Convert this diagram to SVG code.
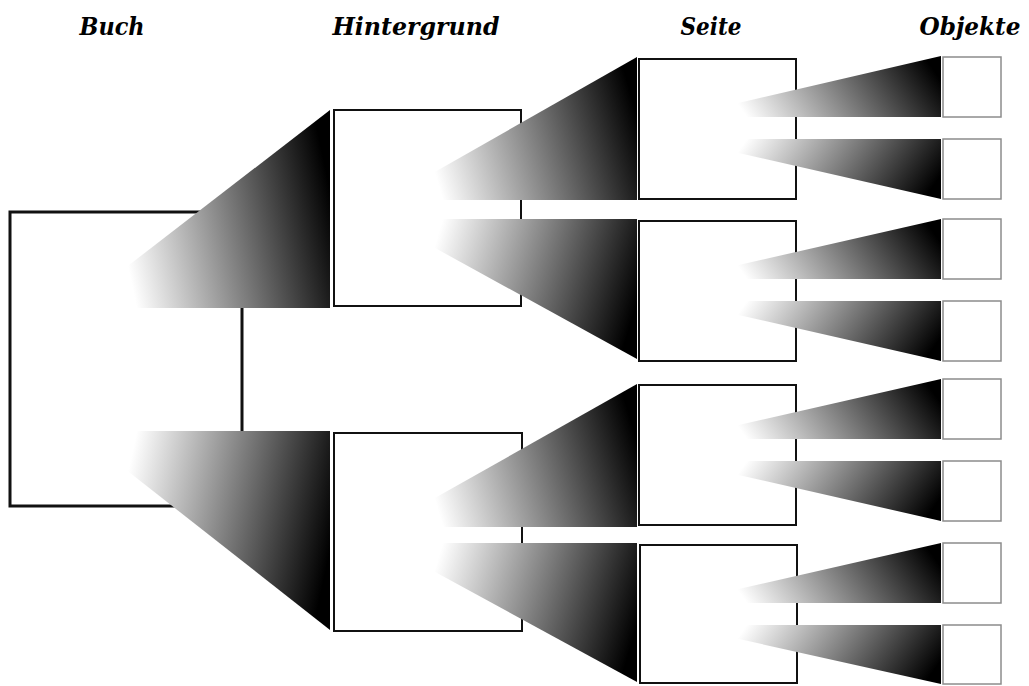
<svg xmlns="http://www.w3.org/2000/svg" width="1029" height="686" viewBox="0 0 1029 686">
  <style>
    .title { font-family: "DejaVu Serif", "Liberation Serif", serif; font-weight: bold; font-style: italic; font-size: 24px; fill: #000; text-anchor: middle; }
    .book { fill: #fff; stroke: #111; stroke-width: 3; }
    .bg { fill: #fff; stroke: #111; stroke-width: 2; }
    .page { fill: #fff; stroke: #111; stroke-width: 2; }
    .obj { fill: #fff; stroke: #8c8c8c; stroke-width: 1.5; }
    .rise { fill: url(#fadeUp); }
    .fall { fill: url(#fadeDown); }
  </style>
  <defs>
    <!-- white at the narrow end, black where the beam meets the child box -->
    <linearGradient id="fadeUp" x1="0" y1="0.6" x2="1" y2="0.4">
      <stop offset="0" stop-color="#fff"/>
      <stop offset="1" stop-color="#000"/>
    </linearGradient>
    <linearGradient id="fadeDown" x1="0" y1="0.4" x2="1" y2="0.6">
      <stop offset="0" stop-color="#fff"/>
      <stop offset="1" stop-color="#000"/>
    </linearGradient>
  </defs>

  <rect width="1029" height="686" fill="#fff"/>

  <!-- column headings -->
  <g id="headings">
    <text class="title" x="112" y="35" textLength="65" lengthAdjust="spacingAndGlyphs">Buch</text>
    <text class="title" x="416" y="35" textLength="167" lengthAdjust="spacingAndGlyphs">Hintergrund</text>
    <text class="title" x="711" y="35" textLength="61" lengthAdjust="spacingAndGlyphs">Seite</text>
    <text class="title" x="970" y="35" textLength="101" lengthAdjust="spacingAndGlyphs">Objekte</text>
  </g>

  <!-- book -->
  <g id="buch"><rect class="book" x="10" y="212" width="232" height="294"/></g>

  <!-- backgrounds -->
  <g id="hintergrund-1"><rect class="bg" x="334" y="110" width="187" height="196"/></g>
  <g id="hintergrund-2"><rect class="bg" x="334" y="433" width="188" height="198"/></g>

  <!-- pages -->
  <g id="seite-1"><rect class="page" x="639" y="59" width="157" height="140"/></g>
  <g id="seite-2"><rect class="page" x="639" y="221" width="157" height="140"/></g>
  <g id="seite-3"><rect class="page" x="639" y="385" width="157" height="140"/></g>
  <g id="seite-4"><rect class="page" x="640" y="545" width="157" height="138"/></g>

  <!-- objects -->
  <g id="objekt-1"><rect class="obj" x="943" y="57" width="58" height="60"/></g>
  <g id="objekt-2"><rect class="obj" x="943" y="139" width="58" height="60"/></g>
  <g id="objekt-3"><rect class="obj" x="943" y="219" width="58" height="60"/></g>
  <g id="objekt-4"><rect class="obj" x="943" y="301" width="58" height="60"/></g>
  <g id="objekt-5"><rect class="obj" x="943" y="379" width="58" height="60"/></g>
  <g id="objekt-6"><rect class="obj" x="943" y="461" width="58" height="60"/></g>
  <g id="objekt-7"><rect class="obj" x="943" y="543" width="58" height="60"/></g>
  <g id="objekt-8"><rect class="obj" x="943" y="625" width="58" height="59"/></g>

  <!-- fan-shaped connectors, drawn over the parent boxes -->
  <g id="connectors">
    <!-- book to backgrounds -->
    <polygon class="rise" points="120,272 330,110 330,308 120,308"/>
    <polygon class="fall" points="120,431 330,431 330,630 120,465"/>

    <!-- backgrounds to pages -->
    <polygon class="rise" points="426,177 637,57 637,200 426,200"/>
    <polygon class="fall" points="426,219 637,219 637,359 426,243"/>
    <polygon class="rise" points="426,503 637,384 637,527 426,527"/>
    <polygon class="fall" points="426,543 637,543 637,682 426,567"/>

    <!-- pages to objects -->
    <polygon class="rise" points="730,105 941,56 941,117 730,117"/>
    <polygon class="fall" points="730,139 941,139 941,199 730,151"/>
    <polygon class="rise" points="730,267 941,219 941,279 730,279"/>
    <polygon class="fall" points="730,301 941,301 941,361 730,313"/>
    <polygon class="rise" points="730,427 941,379 941,439 730,439"/>
    <polygon class="fall" points="730,461 941,461 941,521 730,473"/>
    <polygon class="rise" points="730,591 941,543 941,603 730,603"/>
    <polygon class="fall" points="730,625 941,625 941,684 730,637"/>
  </g>
</svg>
